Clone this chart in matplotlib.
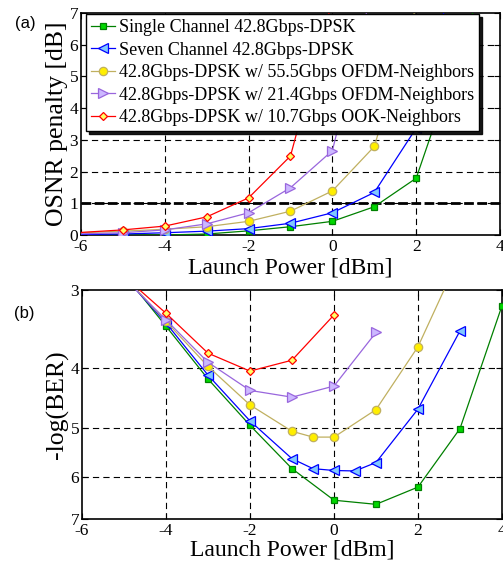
import matplotlib
matplotlib.use("Agg")
import matplotlib.pyplot as plt
from matplotlib.ticker import FixedLocator, FixedFormatter, NullLocator

plt.rcParams["font.family"] = ["Liberation Serif", "DejaVu Serif"]
plt.rcParams["lines.scale_dashes"] = False

# ---- (a) OSNR penalty vs launch power ----
labels = [
    "Single Channel 42.8Gbps-DPSK",
    "Seven Channel 42.8Gbps-DPSK",
    "42.8Gbps-DPSK w/ 55.5Gbps OFDM-Neighbors",
    "42.8Gbps-DPSK w/ 21.4Gbps OFDM-Neighbors",
    "42.8Gbps-DPSK w/ 10.7Gbps OOK-Neighbors",
]

a_single_x = [-7, -5, -4, -3, -2, -1, 0, 1, 2, 3, 4]
a_single_y = [0.0, 0.0, 0.0, 0.03, 0.13, 0.26, 0.43, 0.89, 1.79, 5.65, 9.5]
a_seven_x = [-7, -5, -4, -3, -2, -1, 0, 1, 2, 3]
a_seven_y = [0.0, 0.03, 0.07, 0.12, 0.20, 0.37, 0.70, 1.34, 3.37, 8.9]
a_ofdm55_x = [-7, -5, -4, -3, -2, -1, 0, 1, 2]
a_ofdm55_y = [0.02, 0.12, 0.18, 0.26, 0.43, 0.75, 1.39, 2.79, 7.2]
a_ofdm21_x = [-7, -5, -4, -3, -2, -1, 0, 1]
a_ofdm21_y = [0.0, 0.07, 0.16, 0.35, 0.70, 1.49, 2.66, 8.0]
a_ook_x = [-7, -5, -4, -3, -2, -1, 0]
a_ook_y = [0.0, 0.16, 0.28, 0.57, 1.17, 2.49, 7.4]

# ---- (b) -log(BER) vs launch power ----
b_single_x = [-5, -4, -3, -2, -1, 0, 1, 2, 3, 4]
b_single_y = [2.83, 3.43, 4.17, 4.95, 5.81, 6.53, 6.63, 6.22, 5.01, 3.18]
b_seven_x = [-5, -4, -3, -2, -1, -0.5, 0, 0.5, 1, 2, 3]
b_seven_y = [2.85, 3.39, 4.11, 4.87, 5.60, 5.81, 5.85, 5.86, 5.68, 4.66, 3.49]
b_ofdm55_x = [-5, -4, -3, -2, -1, -0.5, 0, 1, 2, 3]
b_ofdm55_y = [2.85, 3.37, 3.98, 4.59, 5.06, 5.17, 5.17, 4.67, 3.70, 2.64]
b_ofdm21_x = [-5, -4, -3, -2, -1, 0, 1]
b_ofdm21_y = [2.87, 3.35, 3.92, 4.35, 4.46, 4.28, 3.51]
b_ook_x = [-5, -4, -3, -2, -1, 0]
b_ook_y = [2.85, 3.27, 3.79, 4.05, 3.89, 3.29]

styles = [
    dict(color="#008000", marker="s", mfc="#00d800", mec="#008000", ms=5),
    dict(color="#0000ff", marker="<", mfc="#80c8ff", mec="#0000ff", ms=7),
    dict(color="#c0b060", marker="o", mfc="#ffee00", mec="#c0b060", ms=6),
    dict(color="#9966dd", marker=">", mfc="#ccb8ff", mec="#9966dd", ms=7),
    dict(color="#ff0000", marker="D", mfc="#ffff66", mec="#ff0000", ms=4.5),
]

grid_kw = dict(color="k", lw=0.8, linestyle=(0, (4.5, 3)))

fig = plt.figure(figsize=(5.03, 5.62), dpi=100)
ax1 = fig.add_axes([0.161, 0.5819, 0.833, 0.395])
ax2 = fig.add_axes([0.163, 0.0765, 0.835, 0.4075])

series_a = [(a_single_x, a_single_y), (a_seven_x, a_seven_y), (a_ofdm55_x, a_ofdm55_y),
            (a_ofdm21_x, a_ofdm21_y), (a_ook_x, a_ook_y)]
series_b = [(b_single_x, b_single_y), (b_seven_x, b_seven_y), (b_ofdm55_x, b_ofdm55_y),
            (b_ofdm21_x, b_ofdm21_y), (b_ook_x, b_ook_y)]

for (x, y), st, lab in zip(series_a, styles, labels):
    ax1.plot(x, y, lw=0.9, mew=0.9, label=lab, zorder=3, **st)
for (x, y), st in zip(series_b, styles):
    ax2.plot(x, y, lw=0.9, mew=0.9, zorder=3, **st)

ax1.axhline(1, color="k", lw=2, linestyle=(0, (7, 2.5)), zorder=2)

ax1.set_xlim(-6, 4)
ax1.set_ylim(0, 7)
ax1.set_xticks([-6, -4, -2, 0, 2, 4])
ax1.set_yticks(range(8))
ax1.set_xticklabels(["-6", "-4", "-2", "0", "2", "4"])
for v in [-4, -2, 0, 2]:
    ax1.axvline(v, zorder=1, **grid_kw)
for v in range(1, 7):
    ax1.axhline(v, zorder=1, **grid_kw)

ax2.set_yscale("log")
ax2.set_xlim(-6, 4)
ax2.set_ylim(7, 3)
ax2.set_xticks([-6, -4, -2, 0, 2, 4])
ax2.set_xticklabels(["-6", "-4", "-2", "0", "2", "4"])
ax2.yaxis.set_major_locator(FixedLocator([3, 4, 5, 6, 7]))
ax2.yaxis.set_major_formatter(FixedFormatter(["3", "4", "5", "6", "7"]))
ax2.yaxis.set_minor_locator(NullLocator())
for v in [-4, -2, 0, 2]:
    ax2.axvline(v, zorder=1, **grid_kw)
for v in [4, 5, 6]:
    ax2.axhline(v, zorder=1, **grid_kw)

for ax in (ax1, ax2):
    ax.tick_params(direction="in", top=True, right=True, length=4, width=0.8,
                   labelsize=12.5, pad=2)
    ax.tick_params(axis="x", pad=3)
    for s in ax.spines.values():
        s.set_linewidth(1.2)

ax1.set_xlabel("Launch Power [dBm]", fontsize=17, labelpad=2)
ax2.set_xlabel("Launch Power [dBm]", fontsize=17, labelpad=0)
ax1.set_ylabel("OSNR penalty [dB]", fontsize=18.5, labelpad=1)
ax2.set_ylabel("-log(BER)", fontsize=18.5, labelpad=1)

leg = ax1.legend(loc="upper left", bbox_to_anchor=(0.012, 0.996), borderaxespad=0,
                 fontsize=13.0, handlelength=1.3, handletextpad=0.2, labelspacing=0.3,
                 borderpad=0.3, fancybox=False, framealpha=1, numpoints=1,
                 shadow={"color": "k", "alpha": 0.9})
leg.get_frame().set_edgecolor("k")
leg.get_frame().set_linewidth(1.0)
leg.set_zorder(5)

fig.text(0.03, 0.972, "(a)", family="Liberation Sans", fontsize=12, va="top")
fig.text(0.028, 0.443, "(b)", family="Liberation Sans", fontsize=12, va="center")

fig.savefig("out.png", dpi=100)
